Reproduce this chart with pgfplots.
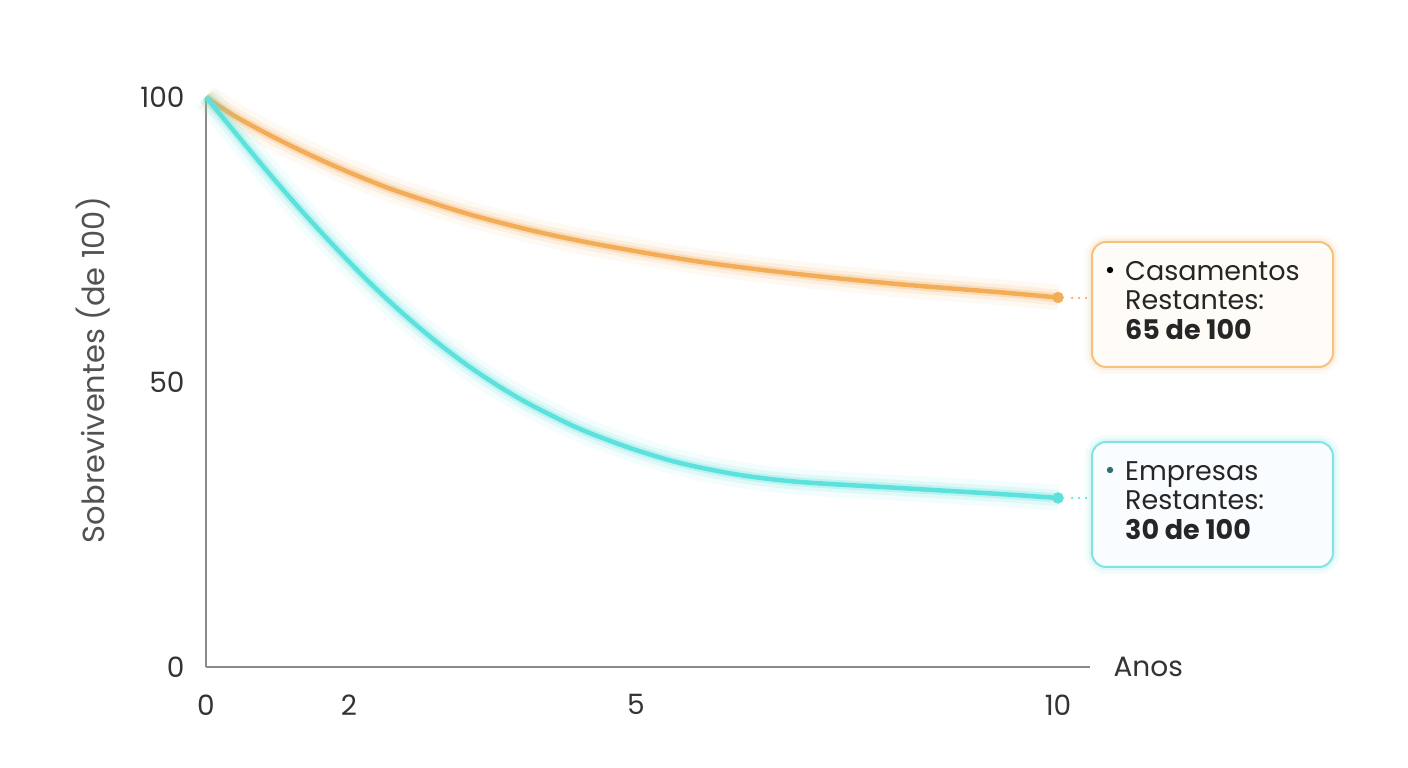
\documentclass[border=0pt]{standalone}
\usepackage{fontspec}
\setmainfont{Poppins}
\usepackage{pgfplots}
\pgfplotsset{compat=1.18}

\definecolor{orangeline}{HTML}{F3AC57}
\definecolor{cyanline}{HTML}{5CE1DC}
\definecolor{orangebox}{HTML}{F4C27E}
\definecolor{cyanbox}{HTML}{82E3E3}
\definecolor{axisgray}{HTML}{8A8A8A}
\definecolor{textgray}{HTML}{333333}
\definecolor{tealdot}{HTML}{2F6F6F}

\newcommand{\chartfont}{\fontsize{27}{30}\selectfont}
\newcommand{\tickfont}{\fontsize{28}{30}\selectfont}

\pgfplotstableread{
x y
0 100
0.317 96.84
0.716 93.56
1.103 90.67
1.491 88.00
1.890 85.49
2.277 83.30
3.063 79.54
3.838 76.53
4.624 74.07
5.798 71.09
6.972 68.89
8.146 67.14
9.319 65.74
10 64.82
}\casamentos

\pgfplotstableread{
x y
0 100
0.317 94.21
0.716 87.02
1.103 80.35
1.491 74.04
1.890 67.89
2.277 62.46
2.664 57.54
3.063 52.98
3.451 49.12
3.838 45.79
4.390 41.75
4.977 38.42
5.563 35.79
6.268 33.68
6.972 32.46
8.146 31.40
9.319 30.35
10 29.65
}\empresas

\begin{document}
\begin{tikzpicture}
\path[use as bounding box] (-206pt,-101pt) rectangle (1202pt,667pt);
\begin{axis}[
    at={(0pt,0pt)}, anchor=south west,
    scale only axis,
    width=884pt, height=570pt,
    xmin=0, xmax=10.375, ymin=0, ymax=100,
    axis lines*=left,
    axis line style={axisgray, line width=1.6pt},
    xtick={0,1.678,5.047,10},
    xticklabels={0,2,5,10},
    ytick={0,50,100},
    tick style={draw=none},
    /pgf/number format/assume math mode=true,
    ticklabel style={font=\tickfont, text=textgray},
    xticklabel style={yshift=-24pt},
    yticklabel style={xshift=-18pt},
    ylabel={Sobreviventes (de 100)},
    ylabel style={font=\fontsize{30.5}{32}\selectfont, text=textgray!85, at={(axis description cs:-0.128,0.521)}, anchor=center},
    xlabel={Anos},
    xlabel style={font=\tickfont, text=textgray, at={(axis description cs:1,0)}, anchor=west, xshift=20pt},
    clip=false,
]
% Casamentos (glow layers + line)
\addplot[orangeline, opacity=0.07, line width=26pt, smooth] table {\casamentos};
\addplot[orangeline, opacity=0.13, line width=16pt, smooth] table {\casamentos};
\addplot[orangeline, opacity=0.25, line width=9pt, smooth] table {\casamentos};
\addplot[orangeline, line width=4.5pt, smooth] table {\casamentos};
\addplot[only marks, mark=*, mark size=5.5pt, orangeline] coordinates {(10,64.82)};
% Empresas
\addplot[cyanline, opacity=0.07, line width=26pt, smooth] table {\empresas};
\addplot[cyanline, opacity=0.13, line width=16pt, smooth] table {\empresas};
\addplot[cyanline, opacity=0.25, line width=9pt, smooth] table {\empresas};
\addplot[cyanline, line width=4.5pt, smooth] table {\empresas};
\addplot[only marks, mark=*, mark size=5.5pt, cyanline] coordinates {(10,29.65)};
\end{axis}

% connectors
\draw[orangeline, line width=2.5pt, dash pattern=on 0pt off 7pt, line cap=round] (866pt,369pt) -- (886pt,369pt);
\draw[cyanline, line width=2.5pt, dash pattern=on 0pt off 7pt, line cap=round] (866pt,169pt) -- (886pt,169pt);

% annotation boxes
\draw[orangebox, opacity=0.10, line width=14pt, rounded corners=14pt] (886pt,300pt) rectangle (1127pt,425pt);
\draw[orangebox, opacity=0.15, line width=7pt, rounded corners=14pt] (886pt,300pt) rectangle (1127pt,425pt);
\draw[orangebox, fill=orange!3, line width=2pt, rounded corners=14pt] (886pt,300pt) rectangle (1127pt,425pt);
\fill[black] (904pt,397pt) circle (3.2pt);
\node[anchor=base west, inner sep=0pt, font=\chartfont, text=black!85] at (919pt,386pt) {Casamentos};
\node[anchor=base west, inner sep=0pt, font=\chartfont, text=black!85] at (919pt,357pt) {Restantes:};
\node[anchor=base west, inner sep=0pt, font=\chartfont\bfseries, text=black!85] at (919pt,327pt) {65 de 100};

\draw[cyanbox, opacity=0.10, line width=14pt, rounded corners=14pt] (886pt,100pt) rectangle (1127pt,225pt);
\draw[cyanbox, opacity=0.15, line width=7pt, rounded corners=14pt] (886pt,100pt) rectangle (1127pt,225pt);
\draw[cyanbox, fill=cyan!2, line width=2pt, rounded corners=14pt] (886pt,100pt) rectangle (1127pt,225pt);
\fill[tealdot] (904pt,197pt) circle (3.2pt);
\node[anchor=base west, inner sep=0pt, font=\chartfont, text=black!85] at (919pt,186pt) {Empresas};
\node[anchor=base west, inner sep=0pt, font=\chartfont, text=black!85] at (919pt,157pt) {Restantes:};
\node[anchor=base west, inner sep=0pt, font=\chartfont\bfseries, text=black!85] at (919pt,127pt) {30 de 100};
\end{tikzpicture}
\end{document}
